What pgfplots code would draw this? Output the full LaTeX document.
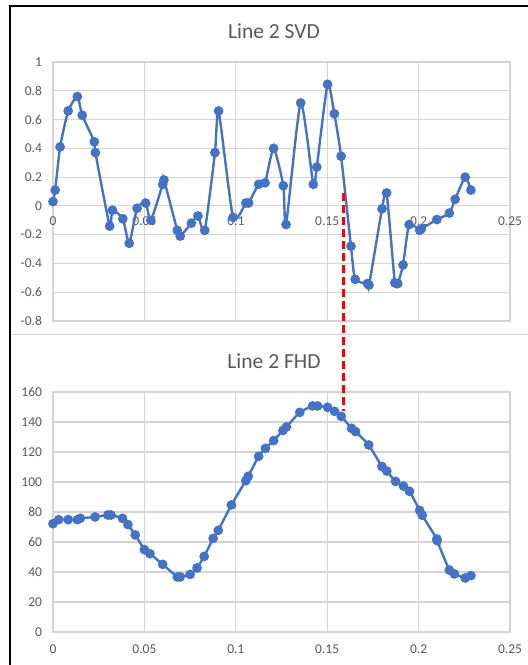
\documentclass[border=0pt]{standalone}
\usepackage{fontspec}
\setmainfont{Carlito}
\usepackage{pgfplots}
\pgfplotsset{compat=1.18}
\definecolor{exblue}{HTML}{4472C4}
\definecolor{txtgray}{HTML}{595959}
\definecolor{gridgray}{HTML}{D4D4D4}

\pgfplotsset{
  panel/.style={
    scale only axis,
    width=457pt,
    xmin=0, xmax=0.25,
    xtick={0,0.05,0.1,0.15,0.2,0.25},
    xticklabels={0,0.05,0.1,0.15,0.2,0.25},
    grid=major,
    major grid style={draw=gridgray, line width=1.2pt},
    axis line style={draw=gridgray, line width=1.2pt},
    major tick length=0pt,
    ticklabel style={font=\fontsize{13.5}{15}\selectfont, text=txtgray},
    yticklabel style={xshift=-7.5pt},
    /pgf/number format/assume math mode=true,
    clip=false,
  },
  series/.style={
    exblue, line width=2.4pt, smooth, tension=0.35,
    mark=*, mark size=3.6pt,
    mark options={solid, fill=exblue, draw=none},
  },
}

\begin{document}
\begin{tikzpicture}
\useasboundingbox (0pt,0pt) rectangle (528pt,665pt);
\fill[white] (0pt,0pt) rectangle (528pt,665pt);
\draw[black, line width=2pt] (10pt,0pt) -- (10pt,659.2pt) -- (528pt,659.2pt);
\draw[gridgray, line width=1pt] (11pt,330pt) -- (528pt,330pt);

% upper panel: SVD
\begin{axis}[panel,
  at={(53pt,344pt)}, anchor=south west, height=259pt,
  ymin=-0.8, ymax=1,
  ytick={-0.8,-0.6,-0.4,-0.2,0,0.2,0.4,0.6,0.8,1},
  yticklabels={-0.8,-0.6,-0.4,-0.2,0,0.2,0.4,0.6,0.8,1},
  xticklabel style={yshift=107.5pt},
]
\addplot[series] coordinates {
(0.0000,0.03) (0.0012,0.11) (0.0039,0.41) (0.0083,0.66) (0.0133,0.76)
(0.0160,0.63) (0.0226,0.445) (0.0232,0.37) (0.0310,-0.14) (0.0325,-0.03)
(0.0382,-0.09) (0.0417,-0.26) (0.0460,-0.016) (0.0507,0.02) (0.0535,-0.10)
(0.0600,0.15) (0.0607,0.18) (0.0680,-0.17) (0.0696,-0.21) (0.0757,-0.12)
(0.0793,-0.07) (0.0830,-0.17) (0.0886,0.37) (0.0906,0.66) (0.0985,-0.08)
(0.1055,0.02) (0.1070,0.02) (0.1125,0.15) (0.1160,0.16) (0.1207,0.40)
(0.1260,0.14) (0.1275,-0.13) (0.1355,0.715) (0.1424,0.15)
(0.1443,0.27) (0.1502,0.845) (0.1539,0.64) (0.1576,0.345) (0.1630,-0.28)
(0.1653,-0.51) (0.1720,-0.54) (0.1729,-0.55) (0.1800,-0.02) (0.1825,0.09)
(0.1870,-0.535) (0.1886,-0.54) (0.1915,-0.41) (0.1948,-0.13) (0.2006,-0.17)
(0.2015,-0.16) (0.2100,-0.095) (0.2168,-0.05) (0.2200,0.046) (0.2255,0.20)
(0.2286,0.11)
};
\coordinate (cutTop) at (axis cs:0.1588,0.093);
\end{axis}

% lower panel: FHD
\begin{axis}[panel,
  at={(53pt,33pt)}, anchor=south west, height=240pt,
  ymin=0, ymax=160,
  ytick={0,20,40,60,80,100,120,140,160},
  xticklabel style={yshift=-9.5pt},
]
\addplot[series] coordinates {
(0.0000,72.2) (0.0031,74.9) (0.0083,74.9) (0.0133,74.9) (0.0150,75.8)
(0.0230,76.7) (0.0300,78.0) (0.0317,78.0) (0.0380,75.8) (0.0410,71.6)
(0.0450,64.7) (0.0500,54.9) (0.0530,52.2) (0.0600,45.1) (0.0680,36.7)
(0.0696,36.7) (0.0750,38.4) (0.0788,42.7) (0.0827,50.4) (0.0876,62.4)
(0.0904,67.8) (0.0976,84.7) (0.1055,100.9) (0.1068,103.8) (0.1125,117.1)
(0.1162,122.4) (0.1207,127.6) (0.1258,134.4) (0.1277,136.7) (0.1350,146.4)
(0.1420,150.7) (0.1447,150.7) (0.1502,149.8) (0.1540,147.1) (0.1577,143.8)
(0.1633,135.8) (0.1655,133.6) (0.1727,124.7) (0.1799,110.4) (0.1826,107.3)
(0.1874,100.4) (0.1917,97.3) (0.1950,93.8) (0.2006,81.1) (0.2020,77.8)
(0.2100,62.0) (0.2101,60.9) (0.2168,41.3) (0.2196,38.7) (0.2255,36.0)
(0.2286,37.6)
};
\coordinate (cutBot) at (axis cs:0.1588,147);
\end{axis}

\node[text=txtgray, font=\fontsize{21.5}{24}\selectfont] at (274pt,634.3pt) {Line 2 SVD};
\node[text=txtgray, font=\fontsize{21.5}{24}\selectfont] at (274pt,304.3pt) {Line 2 FHD};

\draw[red, line width=2.6pt, dash pattern=on 8pt off 4pt] (cutTop) -- (cutBot);
\end{tikzpicture}
\end{document}
